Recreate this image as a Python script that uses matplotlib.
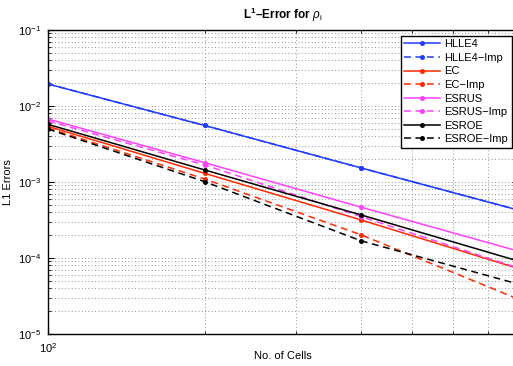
import numpy as np
import matplotlib
matplotlib.use('Agg')
import matplotlib.pyplot as plt
from matplotlib.ticker import LogLocator, NullFormatter

plt.rcParams['font.family'] = ['Liberation Sans', 'DejaVu Sans']
plt.rcParams['mathtext.fontset'] = 'custom'
plt.rcParams['mathtext.rm'] = 'Liberation Sans'
plt.rcParams['mathtext.it'] = 'Liberation Sans:italic'
plt.rcParams['mathtext.bf'] = 'Liberation Sans:bold'

# Data
cells = [100, 200, 400, 800]
hlle4 = [0.01948, 0.00554, 0.001528, 0.000428]
hlle4_imp = [0.01948, 0.00554, 0.001528, 0.000428]
ec = [0.0054, 0.0013, 0.000316, 7.28e-5]
ec_imp = [0.00514, 0.001094, 0.000201, 2.89e-5]
esrus = [0.00674, 0.001795, 0.000465, 0.0001235]
esrus_imp = [0.00635, 0.001675, 0.000349, 7.4e-5]
esroe = [0.00574, 0.00144, 0.000368, 9.14e-5]
esroe_imp = [0.00498, 0.00101, 0.000168, 4.55e-5]

labels = ['HLLE4', 'HLLE4\u2212Imp', 'EC', 'EC\u2212Imp',
          'ESRUS', 'ESRUS\u2212Imp', 'ESROE', 'ESROE\u2212Imp']
series = [hlle4, hlle4_imp, ec, ec_imp, esrus, esrus_imp, esroe, esroe_imp]
colors = ['#1f3cff', '#1f3cff', '#ff2a00', '#ff2a00',
          '#ff40ff', '#ff40ff', 'black', 'black']

fig = plt.figure(figsize=(5.13, 3.66), dpi=100)
# axes run slightly past the right edge (cropped like the original)
ax = fig.add_axes([48/513, 32/366, 470/513, 304/366])

for i, (ys, lab, c) in enumerate(zip(series, labels, colors)):
    ls = '-' if i % 2 == 0 else '--'
    line, = ax.plot(cells, ys, ls, color=c, lw=1.1, marker='o', ms=3.6,
                    mew=0, label=lab)
    if ls == '--':
        line.set_dashes((4.5, 3))

ax.set_xscale('log')
ax.set_yscale('log')
ax.set_xlim(100, 800)
ax.set_ylim(1e-5, 1e-1)
ax.yaxis.set_major_locator(LogLocator(base=10, numticks=10))
ax.yaxis.set_minor_locator(LogLocator(base=10, subs=np.arange(2, 10), numticks=10))
ax.xaxis.set_minor_locator(LogLocator(base=10, subs=np.arange(2, 10), numticks=10))
ax.xaxis.set_minor_formatter(NullFormatter())
ax.yaxis.set_minor_formatter(NullFormatter())

ax.grid(True, which='both', linestyle=(0, (1, 3)), color='0.45', linewidth=0.6)
ax.set_axisbelow(True)
ax.tick_params(which='both', direction='in', top=True, right=True, labelsize=8)
ax.tick_params(which='major', length=4, pad=5)
ax.tick_params(which='minor', length=2)
for s in ax.spines.values():
    s.set_linewidth(1.0)

ax.set_title(r'$\mathbf{L^1}$' + '\u2013Error for ' + r'$\rho_\mathrm{i}$',
             fontsize=8.5, fontweight='bold', pad=8)
ax.set_xlabel('No. of Cells', fontsize=8, va='center')
ax.xaxis.set_label_coords(0.5, -0.072)
ax.set_ylabel('L1 Errors', fontsize=8)
ax.yaxis.set_label_coords(-0.075, 0.5)

leg = ax.legend(loc='upper right', bbox_to_anchor=(511.5/513, 1 - 36/366),
                bbox_transform=fig.transFigure, fontsize=8, frameon=True,
                fancybox=False, borderaxespad=0, handlelength=3.2,
                labelspacing=0.32, borderpad=0.3, handletextpad=0.4)
leg.get_frame().set_edgecolor('black')
leg.get_frame().set_linewidth(1.0)
leg.get_frame().set_alpha(1)

fig.savefig('out.png', dpi=100)
